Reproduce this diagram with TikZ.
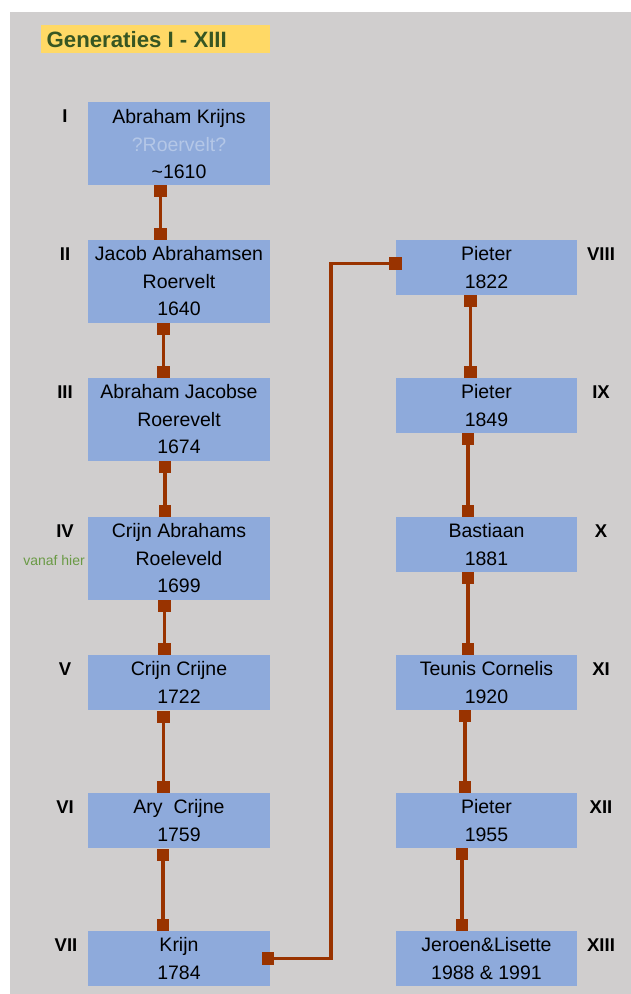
\documentclass[tikz,border=0pt]{standalone}
\usepackage{fontspec}
\setmainfont{Liberation Sans}
\definecolor{bgGray}{HTML}{D0CECE}
\definecolor{boxBlue}{HTML}{8EAADB}
\definecolor{connRed}{HTML}{993300}
\definecolor{titleYellow}{HTML}{FFD966}
\definecolor{titleGreen}{HTML}{375623}
\definecolor{paleText}{HTML}{B4C7E7}
\definecolor{noteGreen}{HTML}{6A9A45}
\tikzset{
  person/.style={fill=boxBlue, draw=none, inner sep=0pt, align=center,
    font=\fontsize{19.5}{27.5}\selectfont, text=black},
  tallbox/.style={person, minimum width=182pt, minimum height=83pt},
  shortbox/.style={person, minimum width=182pt, minimum height=55pt},
  gen/.style={font=\fontsize{18.5}{20}\selectfont\bfseries, text=black, inner sep=0pt},
  sq/.style={fill=connRed, draw=none, minimum width=12.5pt, minimum height=12.5pt, inner sep=0pt},
  conn/.style={draw=connRed, line width=3.2pt},
}
\begin{document}
\begin{tikzpicture}[x=1pt,y=-1pt]
\useasboundingbox (0,0) rectangle (631,994);
\fill[white] (0,0) rectangle (631,994);
\fill[bgGray] (10,12) rectangle (631,994);
% title
\node[fill=titleYellow, minimum width=229pt, minimum height=28pt, inner sep=0pt] (titlebox) at (155.5,39) {};
\node[anchor=west, inner sep=0pt, font=\fontsize{22.2}{24}\selectfont\bfseries, text=titleGreen] (title) at (46.5,39.5) {Generaties I - XIII};
% left column
\node[tallbox] (p1) at (179,143.5) {};
\node[person, fill=none] (p1text) at (179,144.5) {Abraham Krijns\\{\color{paleText}?Roervelt?}\\\textasciitilde1610};
\node[tallbox] (p2) at (179,281.5) {Jacob Abrahamsen\\Roervelt\\1640};
\node[tallbox] (p3) at (179,419.5) {Abraham Jacobse\\Roerevelt\\1674};
\node[tallbox] (p4) at (179,558.5) {Crijn Abrahams\\Roeleveld\\1699};
\node[shortbox] (p5) at (179,682.5) {Crijn Crijne\\1722};
\node[shortbox] (p6) at (179,820.5) {Ary\ \ Crijne\\1759};
\node[shortbox] (p7) at (179,958.5) {Krijn\\1784};
% right column
\node[shortbox, minimum width=181pt] (p8) at (486.5,267.5) {Pieter\\1822};
\node[shortbox, minimum width=181pt] (p9) at (486.5,405.5) {Pieter\\1849};
\node[shortbox, minimum width=181pt] (p10) at (486.5,544.5) {Bastiaan\\1881};
\node[shortbox, minimum width=181pt] (p11) at (486.5,682.5) {Teunis Cornelis\\1920};
\node[shortbox, minimum width=181pt] (p12) at (486.5,820.5) {Pieter\\1955};
\node[shortbox, minimum width=181pt] (p13) at (486.5,958.5) {Jeroen\&Lisette\\1988 \& 1991};
% generation labels
\node[gen] (g1) at (65,116) {I};
\node[gen] (g2) at (65,254) {II};
\node[gen] (g3) at (65,392) {III};
\node[gen] (g4) at (65,531) {IV};
\node[gen] (g5) at (65,669) {V};
\node[gen] (g6) at (65,807) {VI};
\node[gen] (g7) at (66,945) {VII};
\node[gen] (g8) at (601,254) {VIII};
\node[gen] (g9) at (601,392) {IX};
\node[gen] (g10) at (601,531) {X};
\node[gen] (g11) at (601,669) {XI};
\node[gen] (g12) at (601,807) {XII};
\node[gen] (g13) at (601,945) {XIII};
\node[inner sep=0pt, font=\fontsize{14}{16}\selectfont, text=noteGreen] (note) at (54,560) {vanaf hier};
% connectors left
\node[sq] (a1) at (160.5,191) {};  \node[sq] (b1) at (160.5,234) {};
\node[sq] (a2) at (163.5,329) {};  \node[sq] (b2) at (163.5,372) {};
\node[sq] (a3) at (165,467) {};    \node[sq] (b3) at (165,511) {};
\node[sq] (a4) at (164.5,606) {};  \node[sq] (b4) at (164.5,649) {};
\node[sq] (a5) at (163.5,717) {};  \node[sq] (b5) at (163.5,787) {};
\node[sq] (a6) at (163,855) {};    \node[sq] (b6) at (163,925) {};
\foreach \i in {1,...,6} { \draw[conn] (a\i) -- (b\i); }
% connectors right
\node[sq] (a8) at (470.5,301) {};  \node[sq] (b8) at (470.5,372) {};
\node[sq] (a9) at (468,439) {};    \node[sq] (b9) at (468,511) {};
\node[sq] (a10) at (468,578) {};   \node[sq] (b10) at (468,649) {};
\node[sq] (a11) at (465,716) {};   \node[sq] (b11) at (465,787) {};
\node[sq] (a12) at (462,854) {};   \node[sq] (b12) at (462,925) {};
\foreach \i in {8,...,12} { \draw[conn] (a\i) -- (b\i); }
% VII -> VIII
\node[sq] (c7) at (268,958.5) {};
\node[sq] (c8) at (395.5,263.5) {};
\draw[conn] (c7) -- (331,958.5) |- (c8);
\end{tikzpicture}
\end{document}
